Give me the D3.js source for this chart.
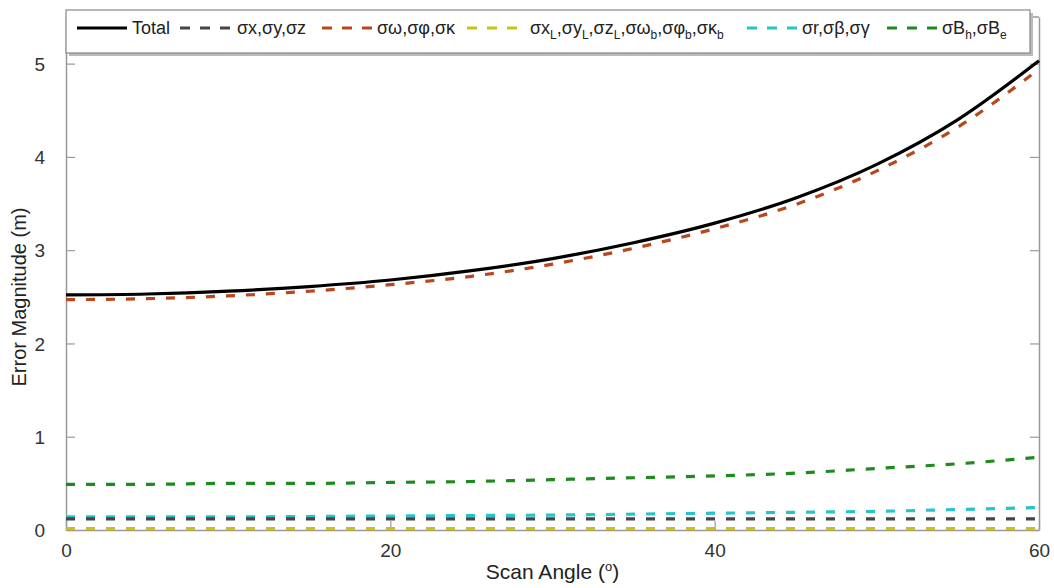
<!DOCTYPE html>
<html><head><meta charset="utf-8">
<script src="https://cdn.jsdelivr.net/npm/d3@7"></script>
<style>html,body{margin:0;padding:0;background:#fff;}svg{display:block;font-family:"Liberation Sans",Arial,sans-serif;}</style>
</head><body>
<svg id="c" width="1054" height="588"></svg>
<script>
const angles = [0, 5, 10, 15, 20, 25, 30, 35, 40, 45, 50, 55, 60];
const total   = [2.52, 2.53, 2.56, 2.61, 2.68, 2.78, 2.91, 3.08, 3.29, 3.56, 3.92, 4.40, 5.03];
const sXYZ    = [0.12, 0.12, 0.12, 0.12, 0.12, 0.12, 0.12, 0.12, 0.12, 0.12, 0.12, 0.12, 0.12];
const sOPK    = [2.47, 2.48, 2.51, 2.56, 2.63, 2.72, 2.85, 3.02, 3.23, 3.49, 3.85, 4.32, 4.94];
const sLever  = [0.015, 0.015, 0.015, 0.015, 0.015, 0.015, 0.015, 0.015, 0.015, 0.015, 0.015, 0.015, 0.015];
const sRBG    = [0.14, 0.14, 0.14, 0.145, 0.15, 0.155, 0.16, 0.17, 0.18, 0.19, 0.20, 0.22, 0.24];
const sBhBe   = [0.49, 0.49, 0.50, 0.50, 0.51, 0.52, 0.54, 0.56, 0.58, 0.61, 0.66, 0.71, 0.78];
const xTicks = [0, 20, 40, 60];
const yTicks = [0, 1, 2, 3, 4, 5];
const seriesNames = ["Total", "σx,σy,σz", "σω,σφ,σκ", "σx_L,σy_L,σz_L,σω_b,σφ_b,σκ_b", "σr,σβ,σγ", "σB_h,σB_e"];
const seriesColors = ["#000000", "#454545", "#b9471c", "#c8c214", "#25c3cc", "#1f8a1f"];
const seriesData = [total, sXYZ, sOPK, sLever, sRBG, sBhBe];

const svg = d3.select("#c");
const L = 66, R = 1039, B = 530, T = 17;
const x = d3.scaleLinear().domain([0, 60]).range([L, R]);
const y = d3.scaleLinear().domain([0, 5.5]).range([B, T]);
const axisColor = "#999";
const fmt = d3.format("d");

// axes
const gl = svg.append("g").attr("transform", `translate(${L},0)`)
  .call(d3.axisLeft(y).tickValues(yTicks).tickFormat(fmt).tickSize(-9).tickSizeOuter(0));
const gr = svg.append("g").attr("transform", `translate(${R},0)`)
  .call(d3.axisRight(y).tickValues(yTicks).tickSize(-9).tickFormat("").tickSizeOuter(0));
const gb = svg.append("g").attr("transform", `translate(0,${B})`)
  .call(d3.axisBottom(x).tickValues(xTicks).tickFormat(fmt).tickSize(-9).tickSizeOuter(0));
[gl, gr, gb].forEach(g => {
  g.select(".domain").attr("stroke", axisColor).attr("stroke-width", 1.5);
  g.selectAll(".tick line").attr("stroke", axisColor).attr("stroke-width", 1.2);
  g.selectAll("text").attr("fill", "#333").style("font-size", "19px").style("font-family", "'Liberation Sans',Arial,sans-serif");
});
gl.selectAll(".tick text").attr("x", -21).attr("text-anchor", "end").attr("dy", "0.35em");
gb.selectAll(".tick text").attr("y", 14).attr("dy", "0.71em");
svg.append("line").attr("x1", L).attr("x2", R).attr("y1", T).attr("y2", T).attr("stroke", axisColor).attr("stroke-width", 1.5);

// lines
const line = d3.line().x((d, i) => x(angles[i])).y(d => y(d)).curve(d3.curveMonotoneX);
const order = [5, 4, 1, 3, 0, 2];
order.forEach(k => {
  svg.append("path").datum(seriesData[k])
    .attr("d", line).attr("fill", "none")
    .attr("stroke", seriesColors[k]).attr("stroke-width", 3.2)
    .attr("stroke-dasharray", k === 0 ? null : "9,11");
});

// axis titles
svg.append("text").attr("x", (L + R) / 2).attr("y", 579).attr("text-anchor", "middle")
  .style("font-size", "21px").attr("fill", "#222")
  .call(t => { t.append("tspan").text("Scan Angle (");
               t.append("tspan").attr("dy", -8).style("font-size", "13px").text("o");
               t.append("tspan").attr("dy", 8).text(")"); });
svg.append("text").attr("transform", "translate(26,297) rotate(-90)").attr("text-anchor", "middle")
  .style("font-size", "20px").attr("fill", "#222").text("Error Magnitude (m)");

// legend
const lg = svg.append("g");
lg.append("rect").attr("x", 69).attr("y", 13).attr("width", 964).attr("height", 43).attr("fill", "#bbb");
lg.append("rect").attr("x", 66).attr("y", 10).attr("width", 964).attr("height", 43)
  .attr("fill", "#fff").attr("stroke", "#888").attr("stroke-width", 1.2);
const lineX = [77, 180, 322, 467, 747, 887];
const textX = [132, 237, 377, 530, 802, 942];
seriesNames.forEach((name, k) => {
  lg.append("line").attr("x1", lineX[k]).attr("x2", lineX[k] + 50).attr("y1", 28).attr("y2", 28)
    .attr("stroke", seriesColors[k]).attr("stroke-width", 3.2)
    .attr("stroke-dasharray", k === 0 ? null : "10,10");
  const t = lg.append("text").attr("x", textX[k]).attr("y", 34).style("font-size", "18px").attr("fill", "#222");
  const parts = name.split(/(_[A-Za-z])/).filter(p => p);
  let shifted = false;
  parts.forEach(p => {
    if (p.startsWith("_")) {
      t.append("tspan").attr("dy", 5).style("font-size", "12px").text(p.slice(1));
      shifted = true;
    } else {
      t.append("tspan").attr("dy", shifted ? -5 : null).text(p);
      shifted = false;
    }
  });
});
</script>
</body></html>
